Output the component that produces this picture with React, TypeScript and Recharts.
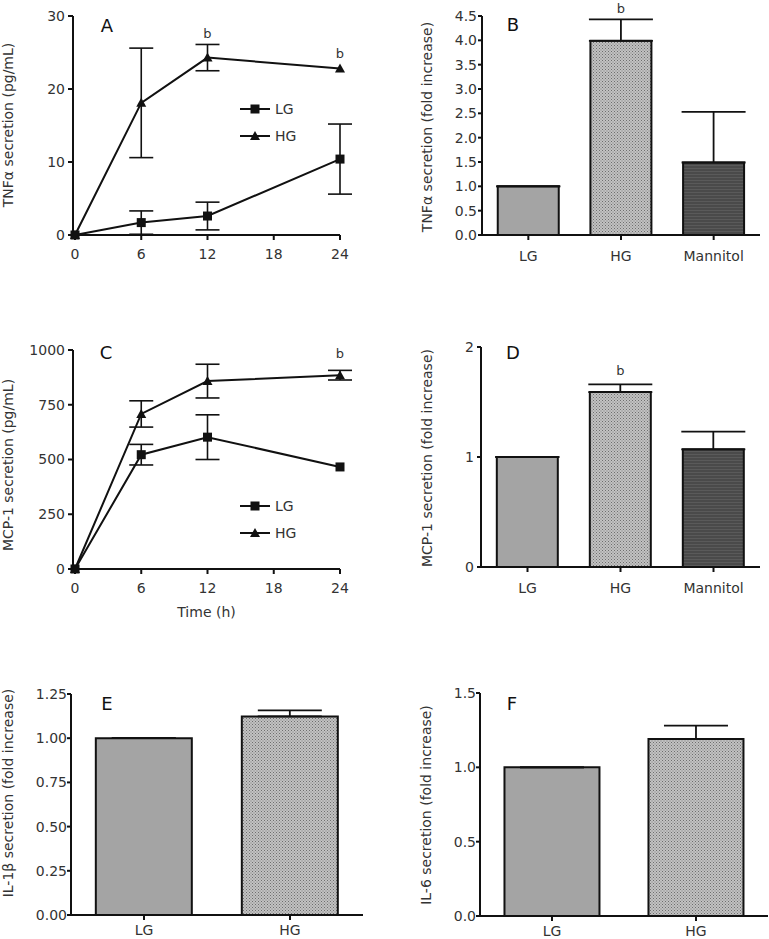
import React from 'react';
import { LineChart, Line, BarChart, Bar, Cell, XAxis, YAxis, ErrorBar, ReferenceDot, Legend } from 'recharts';

const FONT = '"DejaVu Sans", sans-serif';
const TEXT = '#333';
const INK = '#111';

// time course panels (A, C)
const hours = [0, 6, 12, 24];
const hourTicks = [0, 6, 12, 18, 24];
const seriesNames = ['LG', 'HG'];

const tnfLG = [0, 1.7, 2.6, 10.4];
const tnfLGErr = [0, 1.6, 1.9, 4.8];
const tnfHG = [0, 18.1, 24.3, 22.8];
const tnfHGErr = [0, 7.5, 1.8, 0];
const tnfSig = [{ t: 12, y: 27.6 }, { t: 24, y: 24.9 }];
const tnfTicks = [0, 10, 20, 30];

const mcpLG = [0, 522, 602, 466];
const mcpLGErr = [0, 47, 102, 0];
const mcpHG = [0, 708, 858, 885];
const mcpHGErr = [0, 60, 77, 22];
const mcpSig = [{ t: 24, y: 983 }];
const mcpTicks = [0, 250, 500, 750, 1000];

// fold-increase panels (B, D, E, F)
const groups3 = ['LG', 'HG', 'Mannitol'];
const groups2 = ['LG', 'HG'];

const tnfFold = [1, 3.99, 1.49];
const tnfFoldErr = [0, 0.44, 1.04];
const tnfFoldSig = ['', 'b', ''];
const tnfFoldTicks = [0, 0.5, 1, 1.5, 2, 2.5, 3, 3.5, 4, 4.5];

const mcpFold = [1, 1.59, 1.07];
const mcpFoldErr = [0, 0.07, 0.16];
const mcpFoldSig = ['', 'b', ''];
const mcpFoldTicks = [0, 1, 2];

const il1Fold = [1, 1.123];
const il1FoldErr = [0, 0.034];
const il1Ticks = [0, 0.25, 0.5, 0.75, 1, 1.25];

const il6Fold = [1, 1.19];
const il6FoldErr = [0, 0.09];
const il6Ticks = [0, 0.5, 1, 1.5];

const barFills = ['#a4a4a4', 'url(#hgFill)', 'url(#manFill)'];

const tickStyle = { fill: TEXT, fontSize: 14, fontFamily: FONT };
const axisLine = { stroke: INK, strokeWidth: 2 };

const SquareDot = (p: any) => (
  <rect key={`sq-${p.index}`} x={p.cx - 4.5} y={p.cy - 4.5} width={9} height={9} fill={INK} />
);
const TriDot = (p: any) => (
  <path key={`tr-${p.index}`} d={`M${p.cx},${p.cy - 5} L${p.cx + 5},${p.cy + 4} L${p.cx - 5},${p.cy + 4} Z`} fill={INK} />
);

const LineLegend = () => (
  <svg width={70} height={44}>
    {seriesNames.map((n, i) => {
      const y = 8 + i * 27;
      return (
        <g key={n}>
          <line x1={2} x2={32} y1={y} y2={y} stroke={INK} strokeWidth={2} />
          {i === 0 ? <rect x={12.5} y={y - 4.5} width={9} height={9} fill={INK} /> : <path d={`M17,${y - 5} L22,${y + 4} L12,${y + 4} Z`} fill={INK} />}
          <text x={37} y={y + 5} fontSize={14} fontFamily={FONT} fill={TEXT}>{n}</text>
        </g>
      );
    })}
  </svg>
);

type TimeProps = {
  lg: number[]; lgErr: number[]; hg: number[]; hgErr: number[];
  sig: { t: number; y: number }[]; ticks: number[];
  left: number; top: number; width: number; height: number;
  margin: any; yWidth: number; xHeight: number; legendTop: number; xLabel?: string;
};

function TimeCourse(props: TimeProps) {
  const { lg, lgErr, hg, hgErr, sig, ticks } = props;
  const data = hours.map((t, i) => ({ t, lg: lg[i], lgErr: lgErr[i], hg: hg[i], hgErr: hgErr[i] }));
  return (
    <div style={{ position: 'absolute', left: props.left, top: props.top }}>
      <LineChart width={props.width} height={props.height} data={data} margin={props.margin}>
        <XAxis dataKey="t" type="number" domain={[0, 24]} ticks={hourTicks} padding={{ left: 2, right: 0 }}
          axisLine={axisLine} tickLine={axisLine} tickSize={5} tickMargin={9} tick={tickStyle} height={props.xHeight}
          label={props.xLabel ? { value: props.xLabel, position: 'insideBottom', offset: 0, fill: TEXT, fontSize: 14, fontFamily: FONT } : undefined} />
        <YAxis type="number" domain={[0, ticks[ticks.length - 1]]} ticks={ticks} width={props.yWidth}
          axisLine={axisLine} tickLine={axisLine} tickSize={5} tickMargin={3} tick={tickStyle} />
        <Legend layout="vertical" align="center" verticalAlign="middle" content={() => <LineLegend />}
          wrapperStyle={{ left: 238, top: props.legendTop, width: 70 }} />
        <Line dataKey="lg" name="LG" stroke={INK} strokeWidth={2} dot={SquareDot} isAnimationActive={false}>
          <ErrorBar dataKey="lgErr" direction="y" width={12} stroke={INK} strokeWidth={1.6} />
        </Line>
        <Line dataKey="hg" name="HG" stroke={INK} strokeWidth={2} dot={TriDot} isAnimationActive={false}>
          <ErrorBar dataKey="hgErr" direction="y" width={12} stroke={INK} strokeWidth={1.6} />
        </Line>
        {sig.map((s) => (
          <ReferenceDot key={s.t} x={s.t} y={s.y} r={1} fill="none" stroke="none" ifOverflow="visible"
            label={{ value: 'b', position: 'center', fill: TEXT, fontSize: 13, fontFamily: FONT }} />
        ))}
      </LineChart>
    </div>
  );
}

type FoldProps = {
  groups: string[]; values: number[]; errs: number[]; sig?: string[]; ticks: number[];
  left: number; top: number; width: number; height: number;
  margin: any; yWidth: number; xHeight: number; tickMarginX: number; tickMarginY: number; sigY?: number;
};

function FoldBars(props: FoldProps) {
  const { groups, values, errs, ticks } = props;
  const data = groups.map((g, i) => ({ g, v: values[i], e: [0, errs[i]] }));
  const sigIdx = props.sig ? props.sig.findIndex((s) => s) : -1;
  const decimals = ticks.some((t) => (t * 10) % 1 !== 0) ? 2 : ticks.some((t) => t % 1 !== 0) ? 1 : 0;
  return (
    <div style={{ position: 'absolute', left: props.left, top: props.top }}>
      <BarChart width={props.width} height={props.height} data={data} margin={props.margin} barCategoryGap="17%">
        <XAxis dataKey="g" axisLine={axisLine} tickLine={axisLine} tickSize={5} tickMargin={props.tickMarginX}
          tick={tickStyle} height={props.xHeight} interval={0} />
        <YAxis type="number" domain={[0, ticks[ticks.length - 1]]} ticks={ticks} width={props.yWidth}
          axisLine={axisLine} tickLine={axisLine} tickSize={4} tickMargin={props.tickMarginY} tick={tickStyle}
          tickFormatter={(v: number) => v.toFixed(decimals)} />
        <Bar dataKey="v" stroke={INK} strokeWidth={2} isAnimationActive={false}>
          {data.map((d, i) => <Cell key={d.g} fill={barFills[i]} />)}
          <ErrorBar dataKey="e" direction="y" width={32} stroke={INK} strokeWidth={1.8} />
        </Bar>
        {sigIdx >= 0 && props.sigY !== undefined && (
          <ReferenceDot x={groups[sigIdx]} y={props.sigY} r={1} fill="none" stroke="none" ifOverflow="visible"
            label={{ value: props.sig![sigIdx], position: 'center', fill: TEXT, fontSize: 13, fontFamily: FONT }} />
        )}
      </BarChart>
    </div>
  );
}

const YLabel = ({ x, y, text }: { x: number; y: number; text: string }) => (
  <div style={{ position: 'absolute', left: x, top: y, transform: 'translate(-50%, -50%) rotate(-90deg)', whiteSpace: 'nowrap', fontSize: 14, color: TEXT, fontFamily: FONT }}>
    {text}
  </div>
);

const PanelTag = ({ x, y, text }: { x: number; y: number; text: string }) => (
  <div style={{ position: 'absolute', left: x, top: y, transform: 'translate(-50%, -50%)', fontSize: 18, color: INK, fontFamily: FONT }}>
    {text}
  </div>
);

export default function App() {
  return (
    <div style={{ position: 'absolute', left: 0, top: 0, width: 769, height: 939, background: '#fff', fontFamily: FONT, overflow: 'hidden' }}>
      <svg width={0} height={0} style={{ position: 'absolute' }}>
        <defs>
          <pattern id="hgFill" width={3} height={3} patternUnits="userSpaceOnUse">
            <rect width={3} height={3} fill="#c2c2c2" />
            <rect width={1} height={1} fill="#6e6e6e" />
            <rect x={1.5} y={1.5} width={1} height={1} fill="#7a7a7a" />
          </pattern>
          <pattern id="manFill" width={4} height={3} patternUnits="userSpaceOnUse">
            <rect width={4} height={3} fill="#4a4a4a" />
            <rect width={4} height={1} fill="#5a5a5a" />
          </pattern>
        </defs>
      </svg>

      <TimeCourse lg={tnfLG} lgErr={tnfLGErr} hg={tnfHG} hgErr={tnfHGErr} sig={tnfSig} ticks={tnfTicks}
        left={0} top={0} width={380} height={280} margin={{ top: 16, right: 40, bottom: 15, left: 0 }}
        yWidth={73} xHeight={30} legendTop={101} />
      <FoldBars groups={groups3} values={tnfFold} errs={tnfFoldErr} sig={tnfFoldSig} sigY={4.65} ticks={tnfFoldTicks}
        left={380} top={0} width={389} height={280} margin={{ top: 16, right: 9, bottom: 15, left: 0 }}
        yWidth={102} xHeight={30} tickMarginX={11} tickMarginY={1} />

      <TimeCourse lg={mcpLG} lgErr={mcpLGErr} hg={mcpHG} hgErr={mcpHGErr} sig={mcpSig} ticks={mcpTicks}
        left={0} top={280} width={380} height={340} margin={{ top: 70, right: 40, bottom: 3, left: 0 }}
        yWidth={73} xHeight={48} legendTop={218} xLabel="Time (h)" />
      <FoldBars groups={groups3} values={mcpFold} errs={mcpFoldErr} sig={mcpFoldSig} sigY={1.79} ticks={mcpFoldTicks}
        left={380} top={280} width={389} height={330} margin={{ top: 67, right: 9, bottom: 13, left: 0 }}
        yWidth={101} xHeight={30} tickMarginX={11} tickMarginY={3} />

      <FoldBars groups={groups2} values={il1Fold} errs={il1FoldErr} ticks={il1Ticks}
        left={0} top={640} width={380} height={299} margin={{ top: 54, right: 17, bottom: 0, left: 0 }}
        yWidth={71} xHeight={24} tickMarginX={5} tickMarginY={0} />
      <FoldBars groups={groups2} values={il6Fold} errs={il6FoldErr} ticks={il6Ticks}
        left={380} top={640} width={389} height={299} margin={{ top: 53, right: 1, bottom: 0, left: 0 }}
        yWidth={100} xHeight={23} tickMarginX={5} tickMarginY={0} />

      <YLabel x={8} y={125} text="TNFα secretion (pg/mL)" />
      <YLabel x={427} y={127} text="TNFα secretion (fold increase)" />
      <YLabel x={8} y={465} text="MCP-1 secretion (pg/mL)" />
      <YLabel x={427} y={458} text="MCP-1 secretion (fold increase)" />
      <YLabel x={8} y={793} text="IL-1β secretion (fold increase)" />
      <YLabel x={426} y={805} text="IL-6 secretion (fold increase)" />

      <PanelTag x={107} y={25} text="A" />
      <PanelTag x={513} y={24} text="B" />
      <PanelTag x={106} y={352} text="C" />
      <PanelTag x={513} y={352} text="D" />
      <PanelTag x={107} y={703} text="E" />
      <PanelTag x={512} y={703} text="F" />
    </div>
  );
}
